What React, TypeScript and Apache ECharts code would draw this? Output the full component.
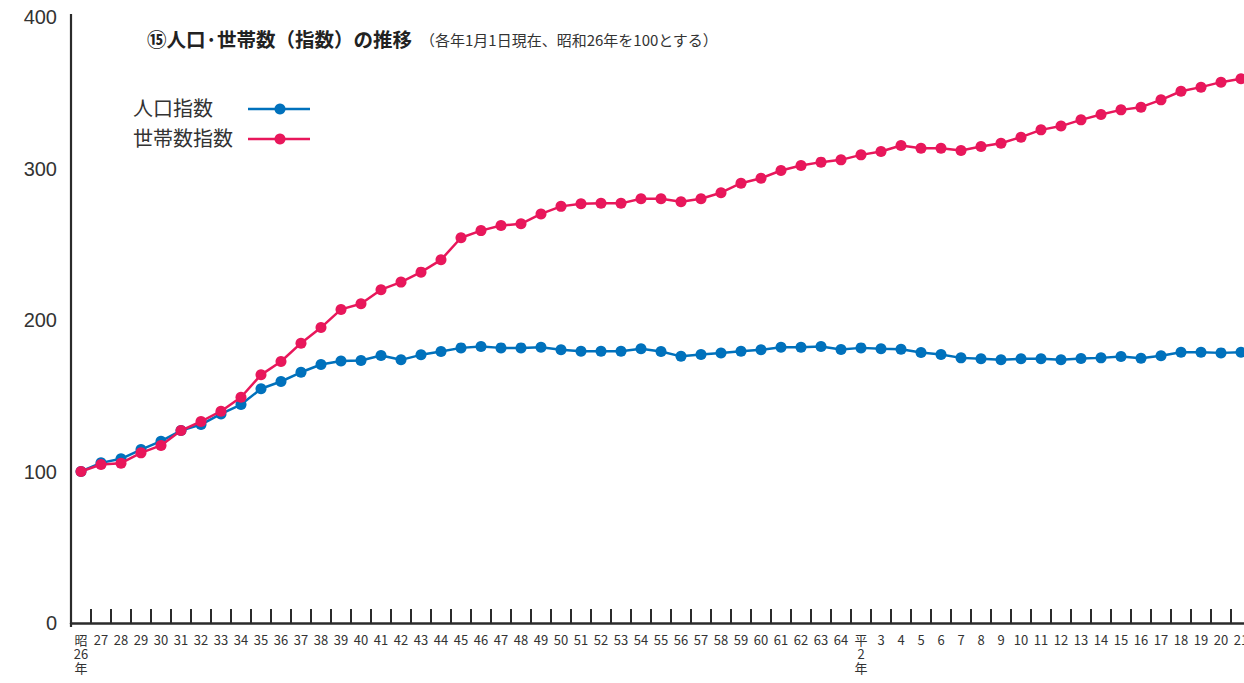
import React, { useEffect, useRef } from "react";
import * as echarts from "echarts";

const showaYears: string[] = [
  "昭\n26\n年", "27", "28", "29", "30", "31", "32", "33", "34", "35", "36", "37", "38", "39",
  "40", "41", "42", "43", "44", "45", "46", "47", "48", "49", "50", "51", "52", "53", "54",
  "55", "56", "57", "58", "59", "60", "61", "62", "63", "64",
];
const heiseiYears: string[] = [
  "平\n2\n年", "3", "4", "5", "6", "7", "8", "9", "10", "11", "12", "13", "14", "15", "16",
  "17", "18", "19", "20", "21",
];
const categories: string[] = [...showaYears, ...heiseiYears];

const populationIndex: number[] = [
  100, 105.7, 108.4, 114.5, 120, 127, 131, 138, 144.2, 154.6, 159.4, 165.5, 170.6, 173,
  173.3, 176.6, 173.7, 177, 179.2, 181.6, 182.5, 181.6, 181.6, 182, 180.3, 179.4, 179.4, 179.4, 181,
  179.2, 176, 177.2, 178.2, 179.4, 180.3, 182, 182, 182.5, 180.5,
  181.6, 181, 180.7, 178.5, 177.2, 175, 174.4, 173.7, 174.4, 174.4, 173.7, 174.6, 175, 175.9, 174.8,
  176.4, 178.7, 178.7, 178.3, 178.7,
];
const householdIndex: number[] = [
  100, 104.6, 105.5, 112.3, 117.2, 127, 133, 139.8, 149, 163.8, 172.6, 184.7, 195, 207,
  210.7, 220, 225, 231.6, 239.7, 254.3, 259, 262.4, 263.5, 270, 275, 276.7, 277, 277, 280,
  280, 278, 280, 284, 290.3, 293.6, 298.7, 302, 304.2, 305.7,
  309, 311.2, 315.2, 313.4, 313.4, 311.9, 314.5, 316.7, 320.7, 325.5, 328, 332.1, 335.6, 338.7, 340.5,
  345.3, 351, 353.7, 357, 359.2,
];
const yTicks = { min: 0, max: 400, interval: 100 };

const seriesNames = ["人口指数", "世帯数指数"];
const titleMain = "⑮人口·世帯数（指数）の推移";
const titleSub = "（各年1月1日現在、昭和26年を100とする）";

const BLUE = "#0071BC";
const RED = "#E8175B";
const AXIS = "#2b2b2b";
const CJK = "'Noto Sans CJK JP', 'Noto Sans', sans-serif";

export default function App() {
  const ref = useRef<HTMLDivElement>(null);
  useEffect(() => {
    if (!ref.current) return;
    const chart = echarts.init(ref.current, undefined, { renderer: "svg" });
    const legendItem = (name: string, color: string, y: number) => [
      {
        type: "text",
        left: 133,
        top: y - 12,
        style: { text: name, fill: "#333", font: `20px ${CJK}` },
      },
      {
        type: "line",
        shape: { x1: 248, y1: y, x2: 310, y2: y },
        style: { stroke: color, lineWidth: 2.5 },
      },
      {
        type: "circle",
        shape: { cx: 280, cy: y, r: 5.5 },
        style: { fill: color },
      },
    ];
    chart.setOption({
      animation: false,
      backgroundColor: "#ffffff",
      grid: {
        left: 71,
        top: 17,
        width: 1180,
        height: 606,
        containLabel: false,
        outerBoundsMode: "none",
      },
      xAxis: {
        type: "category",
        data: categories,
        boundaryGap: true,
        offset: 4,
        axisLine: { show: true, lineStyle: { color: AXIS, width: 2.5 } },
        axisTick: {
          show: true,
          inside: true,
          length: 14,
          interval: 0,
          lineStyle: { color: AXIS, width: 2 },
        },
        axisLabel: {
          interval: 0,
          margin: 5,
          color: "#333",
          fontSize: 13,
          lineHeight: 14,
          fontFamily: "'Liberation Sans Narrow', 'Noto Sans CJK JP', sans-serif",
          verticalAlign: "top",
        },
        splitLine: { show: false },
      },
      yAxis: {
        type: "value",
        min: yTicks.min,
        max: yTicks.max,
        interval: yTicks.interval,
        axisLine: { show: false },
        axisTick: { show: false },
        splitLine: { show: false },
        axisLabel: {
          margin: 14,
          color: "#333",
          fontSize: 20,
          fontFamily: "'Liberation Sans', Arial, sans-serif",
        },
      },
      series: [
        {
          name: seriesNames[0],
          type: "line",
          data: populationIndex,
          symbol: "circle",
          symbolSize: 11,
          showSymbol: true,
          lineStyle: { color: BLUE, width: 2.5 },
          itemStyle: { color: BLUE },
          z: 2,
        },
        {
          name: seriesNames[1],
          type: "line",
          data: householdIndex,
          symbol: "circle",
          symbolSize: 11,
          showSymbol: true,
          lineStyle: { color: RED, width: 2.5 },
          itemStyle: { color: RED },
          z: 3,
        },
      ],
      graphic: [
        {
          type: "line",
          shape: { x1: 71, y1: 14, x2: 71, y2: 627 },
          style: { stroke: AXIS, lineWidth: 2.2 },
        },
        {
          type: "text",
          left: 147,
          top: 29,
          style: { text: titleMain, fill: "#222", font: `bold 19.5px ${CJK}` },
        },
        {
          type: "text",
          left: 420,
          top: 32,
          style: { text: titleSub, fill: "#333", font: `15px ${CJK}` },
        },
        ...legendItem(seriesNames[0], BLUE, 109),
        ...legendItem(seriesNames[1], RED, 139),
      ],
    });
    return () => chart.dispose();
  }, []);
  return (
    <div
      ref={ref}
      style={{ position: "fixed", left: 0, top: 0, width: 1244, height: 683, background: "#fff" }}
    />
  );
}
